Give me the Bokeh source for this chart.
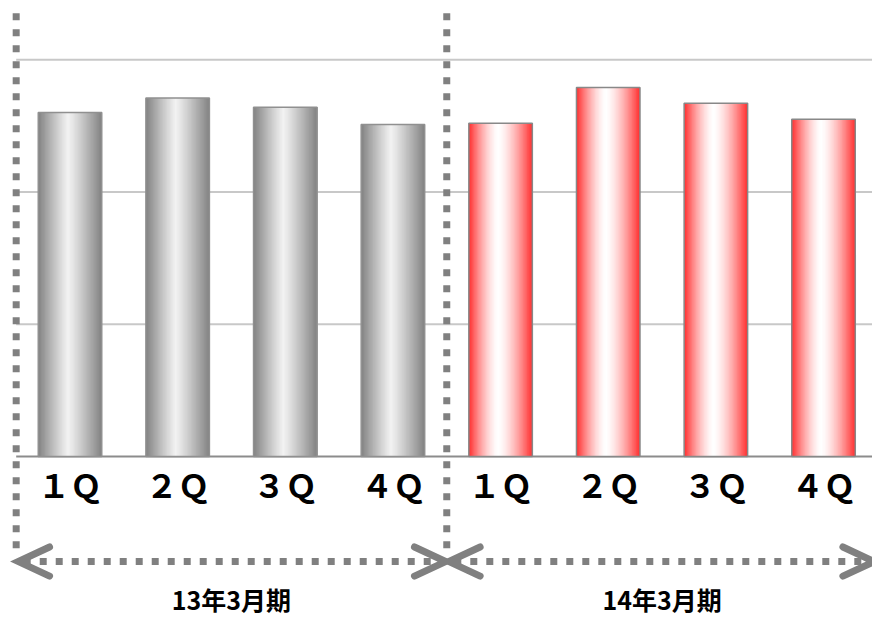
import numpy as np
from bokeh.plotting import figure
from bokeh.models import Range1d, ColumnDataSource
from bokeh.core.properties import value
from bokeh.embed import file_html
from bokeh.resources import INLINE

# ---- data ----
quarters = ["１Ｑ", "２Ｑ", "３Ｑ", "４Ｑ"]
periods = ["13年3月期", "14年3月期"]
values_13 = [260, 271, 264, 251]
values_14 = [252, 279, 267, 255]
grid_values = [100, 200, 300]

FONT = value("Noto Sans CJK JP")
GRAY = "#808080"

p = figure(width=872, height=619, output_backend="svg", toolbar_location=None,
           x_range=Range1d(-0.6457, 7.455), y_range=Range1d(-123.2, 344.7),
           min_border=0)
p.axis.visible = False
p.grid.visible = False
p.outline_line_color = None
p.background_fill_color = "white"
p.border_fill_color = "white"

n_cat = len(quarters) * len(periods)
x_left_edge = -0.5
x_right_edge = n_cat - 0.5

# grid lines
p.segment(x0=[x_left_edge] * len(grid_values), x1=[x_right_edge] * len(grid_values),
          y0=grid_values, y1=grid_values, line_color="#c8c8c8", line_width=2)
# baseline
p.segment(x0=[x_left_edge], x1=[x_right_edge], y0=[0], y1=[0], line_color="#8c8c8c", line_width=2)

# gradient bars
bar_w = 0.59
nsl = 48

def draw_bars(vals, offset, edge_rgb, mid_rgb, peak, expo, outline):
    lefts, rights, tops, colors = [], [], [], []
    for k in range(nsl):
        t = (k + 0.5) / nsl
        if t < peak:
            d = (peak - t) / peak
        else:
            d = (t - peak) / (1 - peak)
        f = 1 - d ** expo
        rgb = [int(round(edge_rgb[j] + (mid_rgb[j] - edge_rgb[j]) * f)) for j in range(3)]
        for i, v in enumerate(vals):
            c = offset + i
            lefts.append(c - bar_w / 2 + k * bar_w / nsl)
            rights.append(c + bar_w / 2)
            tops.append(v)
            colors.append("#%02x%02x%02x" % tuple(rgb))
    src = ColumnDataSource(dict(left=lefts, right=rights, top=tops, bottom=[0] * len(tops), color=colors))
    p.quad(left="left", right="right", top="top", bottom="bottom", fill_color="color",
           line_color=None, source=src)
    xs = [offset + i for i in range(len(vals))]
    p.vbar(x=xs, top=vals, bottom=0, width=bar_w, fill_color=None,
           line_color=outline, line_width=1.5)

draw_bars(values_13, 0, (130, 130, 130), (242, 242, 242), 0.47, 1.1, "#909090")
draw_bars(values_14, len(quarters), (255, 45, 45), (255, 255, 255), 0.46, 1.5, "#888888")

# quarter labels
xs_lab = list(range(n_cat))
p.text(x=xs_lab, y=[-20.4] * n_cat, text=quarters * len(periods), text_align="center",
       text_baseline="middle", text_font=FONT, text_font_size="32px",
       text_font_style="bold", text_color="black")

# period dividers (vertical dotted lines)
div_x = [x_left_edge + g * len(quarters) for g in range(len(periods))]
p.segment(x0=div_x, x1=div_x, y0=[335] * len(div_x), y1=[-70] * len(div_x),
          line_color=GRAY, line_width=7, line_dash="7 9")

# arrows
arrow_y = -79.4
dx, dy = 0.29, 11
for g in range(len(periods)):
    a = x_left_edge + g * len(quarters) + 0.02
    b = x_left_edge + (g + 1) * len(quarters) - (0.03 if g == len(periods) - 1 else 0.01)
    p.segment(x0=[a + 0.05], x1=[b - 0.05], y0=[arrow_y], y1=[arrow_y],
              line_color=GRAY, line_width=7, line_dash="7 9")
    p.multi_line(xs=[[a + dx, a, a + dx], [b - dx, b, b - dx]],
                 ys=[[arrow_y + dy, arrow_y, arrow_y - dy]] * 2,
                 line_color=GRAY, line_width=7, line_cap="round", line_join="miter")

# period labels
px_ = [x_left_edge + (g + 0.5) * len(quarters) for g in range(len(periods))]
p.text(x=px_, y=[-108.0] * len(periods), text=periods, text_align="center",
       text_baseline="middle", text_font=FONT, text_font_size="25px",
       text_font_style="bold", text_color="black")

open("out.html", "w").write(file_html(p, INLINE))
